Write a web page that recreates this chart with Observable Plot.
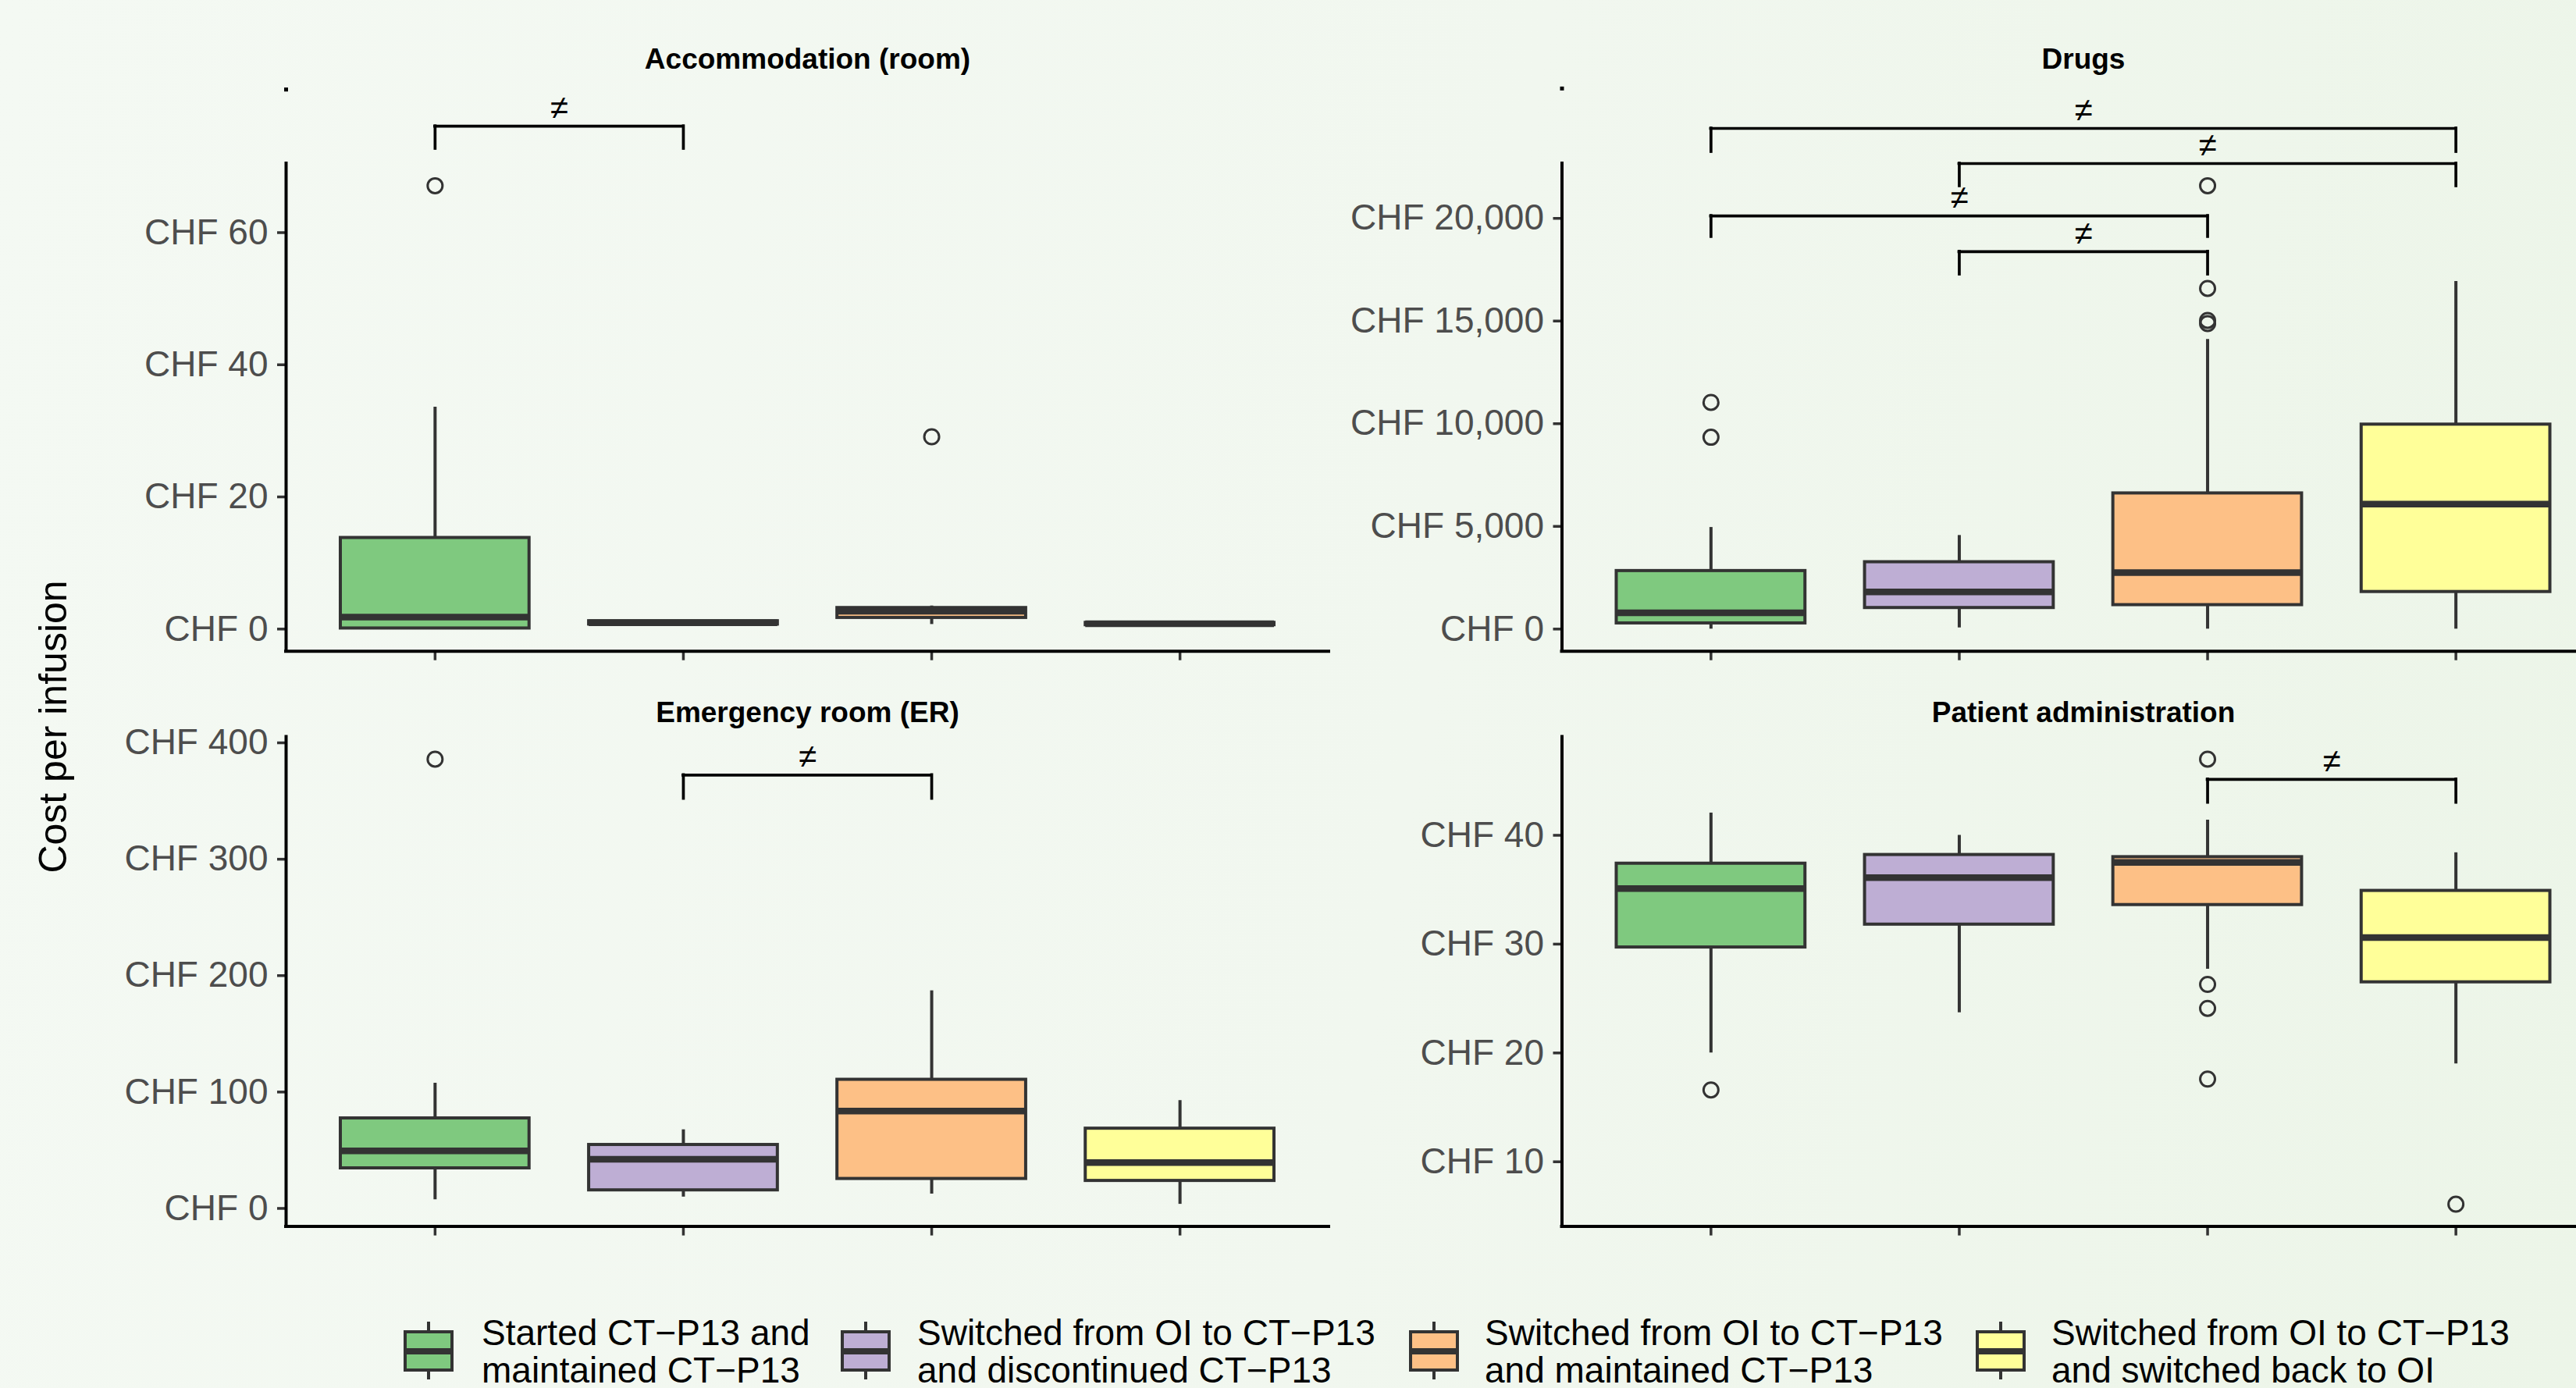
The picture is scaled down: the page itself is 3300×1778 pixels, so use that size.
<!DOCTYPE html>
<html><head><meta charset="utf-8">
<script src="https://cdn.jsdelivr.net/npm/d3@7"></script>
<script src="https://cdn.jsdelivr.net/npm/@observablehq/plot@0.6"></script>
<style>
html,body{margin:0;padding:0;}
body{width:3300px;height:1778px;overflow:hidden;position:relative;
  background:linear-gradient(100deg,#f4f9f3 0%,#f1f7ef 55%,#ecf5e8 100%);
  font-family:"Liberation Sans",Arial,Helvetica,sans-serif;}
.panel{position:absolute;}
.panel svg{display:block;}
.lkey{position:absolute;top:1679px;}
.ltext{position:absolute;top:1683px;font-size:46px;line-height:48px;color:#000;white-space:pre;}
</style></head><body>
<div id="root"></div>
<script>
// ---------------- data ----------------
const groupLabels = [
  "Started CT\u2212P13 and\nmaintained CT\u2212P13",
  "Switched from OI to CT\u2212P13\nand discontinued CT\u2212P13",
  "Switched from OI to CT\u2212P13\nand maintained CT\u2212P13",
  "Switched from OI to CT\u2212P13\nand switched back to OI"
];
const groupColors = ["#7fc97f", "#beaed4", "#fdc086", "#ffff99"];
const panelTitles = ["Accommodation (room)", "Drugs", "Emergency room (ER)", "Patient administration"];

// Accommodation (room)
const accomTicks = [0, 20, 40, 60];
const accomLow  = [0,    0.7,  0.7, 0.6];
const accomQ1   = [0.1,  0.7,  1.7, 0.6];
const accomMed  = [1.8,  0.95, 2.7, 0.8];
const accomQ3   = [13.8, 1.2,  3.2, 0.95];
const accomHigh = [33.6, 1.2,  3.5, 0.95];
const accomOutliers = [[1, 67.1], [3, 29.1]];
const accomBrackets = [[1, 2, 76.1, 72.7]];
const accomStub = [81.3, 81.9];

// Drugs
const drugsTicks = [0, 5000, 10000, 15000, 20000];
const drugsLow  = [0,    60,   0,     0];
const drugsQ1   = [280,  1030, 1170,  1810];
const drugsMed  = [790,  1810, 2750,  6080];
const drugsQ3   = [2830, 3260, 6610,  9960];
const drugsHigh = [4950, 4560, 14110, 16930];
const drugsOutliers = [[1, 9340], [1, 11040], [3, 14880], [3, 15030], [3, 16590], [3, 21590]];
const drugsBrackets = [[1, 4, 24380, 23240], [2, 4, 22670, 21570], [1, 3, 20120, 19100], [2, 3, 18380, 17270]];
const drugsStub = [26210, 26400];

// Emergency room (ER)
const erTicks = [0, 100, 200, 300, 400];
const erLow  = [7.5,   9.8,  12.4,  3.6];
const erQ1   = [34.5,  15.6, 25.4,  23.7];
const erMed  = [49.4,  42.3, 83.6,  39.3];
const erQ3   = [77.4,  54.6, 110.6, 68.6];
const erHigh = [107.6, 67.6, 187,   92.7];
const erOutliers = [[1, 386]];
const erBrackets = [[2, 3, 372.3, 352]];

// Patient administration
const paTicks = [10, 20, 30, 40];
const paLow  = [20.0,  23.7, 27.7, 19.0];
const paQ1   = [29.7,  31.8, 33.6, 26.5];
const paMed  = [35.1,  36.1, 37.5, 30.6];
const paQ3   = [37.4,  38.2, 38.0, 34.9];
const paHigh = [42.05, 40.0, 41.4, 38.4];
const paOutliers = [[1, 16.6], [3, 47.0], [3, 26.3], [3, 24.1], [3, 17.6], [4, 6.1]];
const paBrackets = [[3, 4, 45.14, 43.0]];

// ---------------- layout ----------------
const layouts = [
  {left: 0,    top: 0,   width: 1712,   height: 860, marginLeft: 366,   marginRight: 10, marginTop: 209,  marginBottom: 26.3, titleDy: -133},
  {left: 1710, top: 0,   width: 1636.5, height: 860, marginLeft: 290.5, marginRight: 10, marginTop: 209,  marginBottom: 26.3, titleDy: -133},
  {left: 0,    top: 860, width: 1712,   height: 730, marginLeft: 366,   marginRight: 10, marginTop: 83.4, marginBottom: 19.4, titleDy: -30.5},
  {left: 1710, top: 860, width: 1636.5, height: 730, marginLeft: 290.5, marginRight: 10, marginTop: 83.4, marginBottom: 19.4, titleDy: -30.5}
];

const panels = [
  {title: panelTitles[0], ticks: accomTicks, low: accomLow, q1: accomQ1, med: accomMed, q3: accomQ3, high: accomHigh, outliers: accomOutliers, brackets: accomBrackets, stub: accomStub},
  {title: panelTitles[1], ticks: drugsTicks, low: drugsLow, q1: drugsQ1, med: drugsMed, q3: drugsQ3, high: drugsHigh, outliers: drugsOutliers, brackets: drugsBrackets, stub: drugsStub},
  {title: panelTitles[2], ticks: erTicks, low: erLow, q1: erQ1, med: erMed, q3: erQ3, high: erHigh, outliers: erOutliers, brackets: erBrackets},
  {title: panelTitles[3], ticks: paTicks, low: paLow, q1: paQ1, med: paMed, q3: paQ3, high: paHigh, outliers: paOutliers, brackets: paBrackets}
];

const FONT = '"Liberation Sans", Arial, Helvetica, sans-serif';
const BOXHALF = 0.38;
const INK = "#333333";

function makePanel(p, lay) {
  const stats = d3.range(4).map(i => ({
    g: i + 1, low: p.low[i], q1: p.q1[i], med: p.med[i], q3: p.q3[i], high: p.high[i], color: groupColors[i]
  }));
  const outl = p.outliers.map(([g, v]) => ({g, v}));
  const br = p.brackets.map(([a, b, y, tip]) => ({a, b, y, tip}));
  const legs = br.flatMap(d => [{x: d.a, y1: d.tip, y2: d.y}, {x: d.b, y1: d.tip, y2: d.y}]);
  const vals = [...p.low, ...p.high, ...outl.map(d => d.v)];
  const [mn, mx] = d3.extent(vals);
  const pad = (mx - mn) * 0.05;
  const yDomain = [mn - pad, mx + pad];
  const xDomain = [0.4, 4.6];
  const marks = [
    Plot.axisY({ticks: p.ticks, tickFormat: d => "CHF " + d3.format(",")(d), tickSize: 11, tickPadding: 12,
      fontSize: 46, fill: "#4d4d4d", stroke: INK, strokeWidth: 3.5, label: null}),
    Plot.axisX({ticks: [1, 2, 3, 4], tickFormat: () => "", tickSize: 12, stroke: INK, strokeWidth: 3.5, label: null}),
    Plot.ruleX([xDomain[0]], {y1: yDomain[0], y2: yDomain[1], stroke: "#000", strokeWidth: 4, strokeLinecap: "square"}),
    Plot.ruleY([yDomain[0]], {x1: xDomain[0], x2: xDomain[1], stroke: "#000", strokeWidth: 4, strokeLinecap: "square"}),
    // whiskers
    Plot.ruleX(stats, {x: "g", y1: "q3", y2: "high", stroke: INK, strokeWidth: 4}),
    Plot.ruleX(stats, {x: "g", y1: "low", y2: "q1", stroke: INK, strokeWidth: 4}),
    // boxes
    Plot.rect(stats, {x1: d => d.g - BOXHALF, x2: d => d.g + BOXHALF, y1: "q1", y2: "q3", fill: "color", stroke: INK, strokeWidth: 4}),
    // medians
    Plot.ruleY(stats, {y: "med", x1: d => d.g - BOXHALF, x2: d => d.g + BOXHALF, stroke: INK, strokeWidth: 8.5}),
    // outliers
    Plot.dot(outl, {x: "g", y: "v", r: 9.5, stroke: INK, strokeWidth: 3, fill: "none"}),
    // significance brackets
    Plot.ruleY(br, {y: "y", x1: "a", x2: "b", stroke: "#000", strokeWidth: 3.7, strokeLinecap: "square"}),
    Plot.ruleX(legs, {x: "x", y1: "y1", y2: "y2", stroke: "#000", strokeWidth: 3.7, strokeLinecap: "square"}),
    Plot.text(br, {x: d => (d.a + d.b) / 2, y: "y", text: () => "\u2260", dy: -23, fontSize: 42, fill: "#000", lineAnchor: "middle"}),
    // panel title
    Plot.text([p.title], {frameAnchor: "top", dy: lay.titleDy, lineAnchor: "middle", fontSize: 37, fontWeight: "bold", fill: "#000"})
  ];
  if (p.stub) marks.push(Plot.ruleX([xDomain[0]], {y1: p.stub[0], y2: p.stub[1], stroke: "#000", strokeWidth: 5}));
  return Plot.plot({
    width: lay.width, height: lay.height,
    marginLeft: lay.marginLeft, marginRight: lay.marginRight, marginTop: lay.marginTop, marginBottom: lay.marginBottom,
    x: {domain: xDomain},
    y: {domain: yDomain},
    color: {type: "identity"},
    style: {background: "transparent", overflow: "visible", maxWidth: "none", fontFamily: FONT, color: "#000"},
    marks
  });
}

const root = document.getElementById("root");
panels.forEach((p, i) => {
  const lay = layouts[i];
  const div = document.createElement("div");
  div.className = "panel";
  div.style.left = lay.left + "px";
  div.style.top = lay.top + "px";
  div.appendChild(makePanel(p, lay));
  root.appendChild(div);
});

// shared y label
const ns = "http://www.w3.org/2000/svg";
const ysvg = document.createElementNS(ns, "svg");
ysvg.setAttribute("width", 200); ysvg.setAttribute("height", 1778);
ysvg.style.position = "absolute"; ysvg.style.left = "0px"; ysvg.style.top = "0px";
const yt = document.createElementNS(ns, "text");
yt.setAttribute("transform", "translate(85,931) rotate(-90)");
yt.setAttribute("text-anchor", "middle");
yt.setAttribute("font-size", 50);
yt.setAttribute("font-family", FONT);
yt.setAttribute("fill", "#000");
yt.textContent = "Cost per infusion";
ysvg.appendChild(yt);
root.appendChild(ysvg);

// legend
const keyLeft = [517, 1077, 1805, 2531];
const textLeft = [617, 1175, 1902, 2628];
groupLabels.forEach((lab, i) => {
  const s = document.createElementNS(ns, "svg");
  s.setAttribute("width", 64); s.setAttribute("height", 99);
  s.setAttribute("class", "lkey");
  s.style.left = keyLeft[i] + "px";
  s.innerHTML =
    `<line x1="32" x2="32" y1="14" y2="27" stroke="${INK}" stroke-width="4"/>` +
    `<line x1="32" x2="32" y1="76" y2="88" stroke="${INK}" stroke-width="4"/>` +
    `<rect x="2" y="27" width="60" height="49" fill="${groupColors[i]}" stroke="${INK}" stroke-width="4"/>` +
    `<line x1="2" x2="62" y1="52" y2="52" stroke="${INK}" stroke-width="8"/>`;
  root.appendChild(s);
  const t = document.createElement("div");
  t.className = "ltext";
  t.style.left = textLeft[i] + "px";
  t.textContent = lab;
  root.appendChild(t);
});
</script>
</body></html>
